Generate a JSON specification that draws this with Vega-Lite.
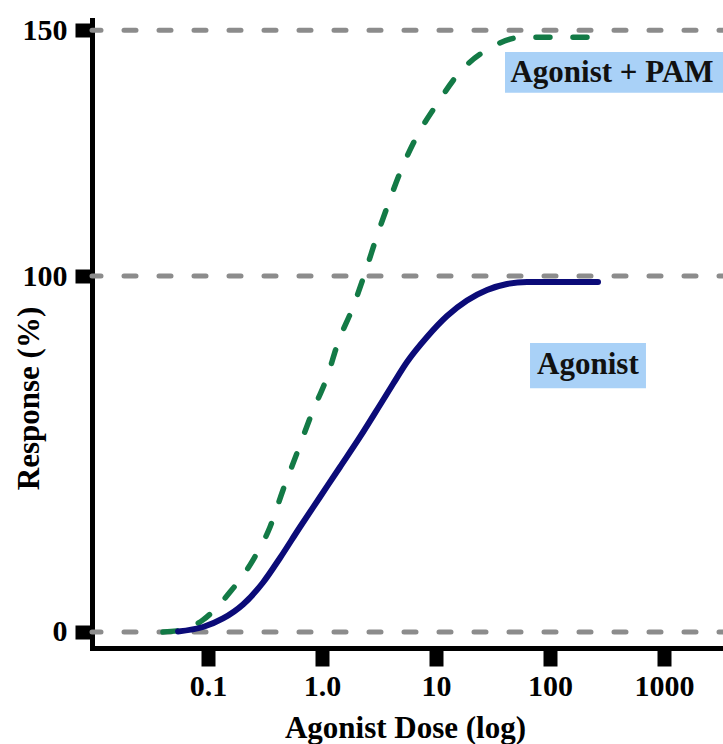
{
  "$schema": "https://vega.github.io/schema/vega-lite/v6.json",
  "width": 631,
  "height": 628,
  "autosize": {"type": "none"},
  "padding": {"left": 92, "top": 20, "right": 0, "bottom": 96},
  "background": "white",
  "config": {
    "view": {"stroke": null},
    "font": "Liberation Serif",
    "axis": {
      "zindex": 1,
      "grid": false,
      "domainColor": "black",
      "domainWidth": 5,
      "domainCap": "square",
      "tickColor": "black",
      "tickWidth": 14,
      "labelFont": "Liberation Serif",
      "labelFontSize": 30,
      "labelFontWeight": "bold",
      "labelColor": "black",
      "titleFont": "Liberation Serif",
      "titleFontSize": 31,
      "titleFontWeight": "bold",
      "titleColor": "black"
    }
  },
  "datasets": {
    "curves": [
      {"series": "Agonist", "dose": 0.0546, "response": 0.14},
      {"series": "Agonist", "dose": 0.0904, "response": 1.4},
      {"series": "Agonist", "dose": 0.1354, "response": 3.79},
      {"series": "Agonist", "dose": 0.2028, "response": 7.72},
      {"series": "Agonist", "dose": 0.3038, "response": 13.9},
      {"series": "Agonist", "dose": 0.4281, "response": 20.79},
      {"series": "Agonist", "dose": 0.6412, "response": 29.49},
      {"series": "Agonist", "dose": 0.9605, "response": 37.92},
      {"series": "Agonist", "dose": 1.439, "response": 46.35},
      {"series": "Agonist", "dose": 2.154, "response": 54.78},
      {"series": "Agonist", "dose": 3.227, "response": 63.76},
      {"series": "Agonist", "dose": 4.196, "response": 69.66},
      {"series": "Agonist", "dose": 5.568, "response": 75.84},
      {"series": "Agonist", "dose": 8.34, "response": 82.87},
      {"series": "Agonist", "dose": 12.49, "response": 88.76},
      {"series": "Agonist", "dose": 18.71, "response": 93.12},
      {"series": "Agonist", "dose": 28.02, "response": 96.07},
      {"series": "Agonist", "dose": 41.96, "response": 97.75},
      {"series": "Agonist", "dose": 62.85, "response": 98.31},
      {"series": "Agonist", "dose": 115.2, "response": 98.31},
      {"series": "Agonist", "dose": 263.8, "response": 98.31},
      {"series": "Agonist + PAM", "dose": 0.0403, "response": 0},
      {"series": "Agonist + PAM", "dose": 0.0604, "response": 0.6},
      {"series": "Agonist + PAM", "dose": 0.0904, "response": 3.4},
      {"series": "Agonist + PAM", "dose": 0.156, "response": 11.2},
      {"series": "Agonist + PAM", "dose": 0.248, "response": 20.2},
      {"series": "Agonist + PAM", "dose": 0.35, "response": 29.5},
      {"series": "Agonist + PAM", "dose": 0.455, "response": 39.9},
      {"series": "Agonist + PAM", "dose": 0.604, "response": 50.3},
      {"series": "Agonist + PAM", "dose": 0.817, "response": 61.5},
      {"series": "Agonist + PAM", "dose": 1.107, "response": 71.6},
      {"series": "Agonist + PAM", "dose": 1.38, "response": 81.2},
      {"series": "Agonist + PAM", "dose": 1.87, "response": 91.3},
      {"series": "Agonist + PAM", "dose": 2.38, "response": 100.6},
      {"series": "Agonist + PAM", "dose": 3.10, "response": 108.8},
      {"series": "Agonist + PAM", "dose": 3.79, "response": 114.5},
      {"series": "Agonist + PAM", "dose": 4.83, "response": 121.0},
      {"series": "Agonist + PAM", "dose": 6.54, "response": 127.7},
      {"series": "Agonist + PAM", "dose": 10.2, "response": 135.0},
      {"series": "Agonist + PAM", "dose": 16.2, "response": 141.5},
      {"series": "Agonist + PAM", "dose": 29.8, "response": 146.4},
      {"series": "Agonist + PAM", "dose": 58.0, "response": 148.6},
      {"series": "Agonist + PAM", "dose": 122, "response": 148.6},
      {"series": "Agonist + PAM", "dose": 275, "response": 148.6}
    ],
    "levels": [{"level": 0}, {"level": 100}, {"level": 150}],
    "labels": [
      {"label": "Agonist + PAM", "dose": 350, "response": 141.4, "dose1": 40.3, "dose2": 5000, "resp1": 137.3, "resp2": 145.6},
      {"label": "Agonist", "dose": 215, "response": 75.0, "dose1": 66.8, "dose2": 695, "resp1": 68.5, "resp2": 81.2}
    ]
  },
  "layer": [
    {
      "data": {"name": "levels"},
      "mark": {"type": "rule", "color": "#8c8c8c", "strokeWidth": 5, "strokeDash": [12, 23], "strokeCap": "round", "strokeDashOffset": 8},
      "encoding": {
        "y": {
          "field": "level", "type": "quantitative",
          "scale": {"domain": [-4.5, 100, 152.1], "range": [628, 256, 0], "nice": false, "zero": false},
          "axis": {
            "values": [0, 100, 150], "format": "d",
            "tickSize": 17, "labelPadding": 8,
            "title": "Response (%)", "titleAngle": -90, "titleAlign": "center", "titleBaseline": "middle",
            "titleX": -63, "titleY": 378
          }
        }
      }
    },
    {
      "data": {"name": "labels"},
      "mark": {"type": "rect", "color": "#a9d1f7", "clip": true},
      "encoding": {
        "x": {"field": "dose1", "type": "quantitative"},
        "x2": {"field": "dose2"},
        "y": {"field": "resp1", "type": "quantitative"},
        "y2": {"field": "resp2"}
      }
    },
    {
      "data": {"name": "curves"},
      "transform": [{"filter": "datum.series == 'Agonist + PAM'"}],
      "mark": {"type": "line", "color": "#137a46", "strokeWidth": 5.5, "strokeDash": [14, 23], "strokeCap": "round", "interpolate": "monotone"},
      "encoding": {
        "x": {
          "field": "dose", "type": "quantitative",
          "scale": {"type": "log", "domain": [0.0096, 3294], "nice": false},
          "axis": {
            "values": [0.1, 1, 10, 100, 1000],
            "labelExpr": "datum.value == 1 ? '1.0' : (datum.value < 0.5 ? '0.1' : format(datum.value, 'd'))",
            "tickSize": 18, "labelPadding": 29, "labelBaseline": "alphabetic",
            "title": "Agonist Dose (log)", "titleX": 313, "titleY": 89, "titleBaseline": "alphabetic", "titleAlign": "center"
          }
        },
        "y": {"field": "response", "type": "quantitative"}
      }
    },
    {
      "data": {"name": "curves"},
      "transform": [{"filter": "datum.series == 'Agonist'"}],
      "mark": {"type": "line", "color": "#0b0b78", "strokeWidth": 6, "strokeCap": "round", "interpolate": "monotone"},
      "encoding": {
        "x": {"field": "dose", "type": "quantitative"},
        "y": {"field": "response", "type": "quantitative"}
      }
    },
    {
      "data": {"name": "labels"},
      "mark": {"type": "text", "font": "Liberation Serif", "fontSize": 31, "fontWeight": "bold", "color": "#111111", "baseline": "middle", "align": "center"},
      "encoding": {
        "x": {"field": "dose", "type": "quantitative"},
        "y": {"field": "response", "type": "quantitative"},
        "text": {"field": "label"}
      }
    }
  ]
}
